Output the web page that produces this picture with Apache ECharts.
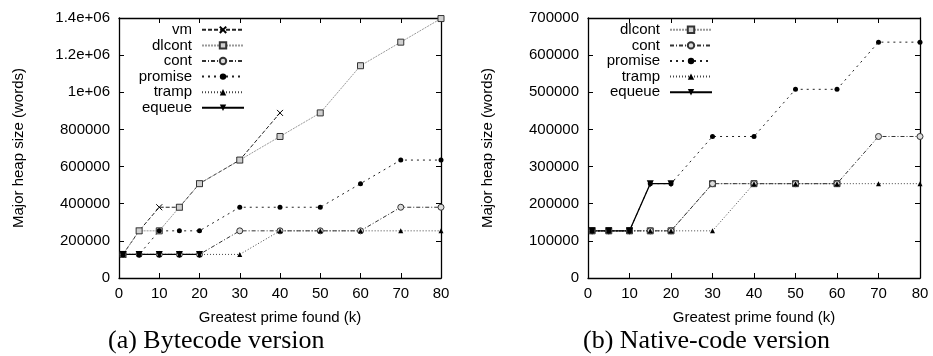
<!DOCTYPE html>
<html>
<head>
<meta charset="utf-8">
<script src="https://cdn.jsdelivr.net/npm/echarts@6/dist/echarts.min.js"></script>
<style>
  html, body { margin: 0; padding: 0; background: #fff; }
  #chart { width: 933px; height: 356px; }
</style>
</head>
<body>
<div id="chart"></div>
<script>
// x positions (greatest prime found, in k)
const primes = [1, 5, 10, 15, 20, 30, 40, 50, 60, 70, 80];

// (a) bytecode version, heap size in words
const vmA      = [127000, 254000, 381000, 381000, 508000, 635000, 889000];
const dlcontA  = [127000, 254000, 254000, 381000, 508000, 635000, 762000, 889000, 1143000, 1270000, 1397000];
const contA    = [127000, 127000, 127000, 127000, 127000, 254000, 254000, 254000, 254000, 381000, 381000];
const promiseA = [127000, 127000, 254000, 254000, 254000, 381000, 381000, 381000, 508000, 635000, 635000];
const trampA   = [127000, 127000, 127000, 127000, 127000, 127000, 254000, 254000, 254000, 254000, 254000];
const equeueA  = [127000, 127000, 127000, 127000, 127000];

// (b) native-code version
const dlcontB  = [127000, 127000, 127000, 127000, 127000, 254000, 254000, 254000, 254000];
const contB    = [127000, 127000, 127000, 127000, 127000, 254000, 254000, 254000, 254000, 381000, 381000];
const promiseB = [127000, 127000, 127000, 254000, 254000, 381000, 381000, 508000, 508000, 635000, 635000];
const trampB   = [127000, 127000, 127000, 127000, 127000, 127000, 254000, 254000, 254000, 254000, 254000];
const equeueB  = [127000, 127000, 127000, 254000, 254000];

// tick labels
const xLabels  = ['0', '10', '20', '30', '40', '50', '60', '70', '80'];
const yLabelsA = ['0', '200000', '400000', '600000', '800000', '1e+06', '1.2e+06', '1.4e+06'];
const yLabelsB = ['0', '100000', '200000', '300000', '400000', '500000', '600000', '700000'];

const FONT = '"Liberation Sans", Arial, sans-serif';
const pairs = (ys) => ys.map((y, i) => [primes[i], y]);

// gnuplot-like styles per curve
const styles = {
  vm:      { symbol: 'path://M0,0L10,10M0,10L10,0', size: 6, line: { color: '#222', width: 1, type: [4, 2] }, item: { color: '#000', borderColor: '#000', borderWidth: 1 } },
  dlcont:  { symbol: 'rect', size: 6, line: { color: '#999', width: 1, type: [2, 1] }, item: { color: '#d0d0d0', borderColor: '#333', borderWidth: 1 } },
  cont:    { symbol: 'circle', size: 6, line: { color: '#333', width: 1, type: [4, 2, 1, 2] }, item: { color: '#ddd', borderColor: '#333', borderWidth: 1 } },
  promise: { symbol: 'circle', size: 5, line: { color: '#222', width: 1, type: [2, 4] }, item: { color: '#000' } },
  tramp:   { symbol: 'triangle', size: 5, line: { color: '#444', width: 1, type: [1, 2] }, item: { color: '#000' } },
  equeue:  { symbol: 'triangle', size: 7, rotate: 180, line: { color: '#000', width: 1.3, type: 'solid' }, item: { color: '#000' } }
};

function makeSeries(name, ys, gi) {
  const s = styles[name];
  return {
    name: name,
    type: 'line',
    xAxisIndex: gi * 2,
    yAxisIndex: gi * 2,
    data: pairs(ys),
    symbol: s.symbol,
    symbolSize: s.size,
    symbolRotate: s.rotate || 0,
    showAllSymbol: true,
    lineStyle: s.line,
    itemStyle: s.item,
    emphasis: { disabled: true },
    animation: false
  };
}

const axisLine = { show: true, onZero: false, lineStyle: { color: '#000', width: 1.3 } };
const tick = { show: true, inside: true, length: 5, lineStyle: { color: '#000', width: 1 } };
const label = { color: '#000', fontSize: 15, fontFamily: FONT };

function xAxes(gi) {
  return [
    { gridIndex: gi, type: 'value', min: 0, max: 80, interval: 10, position: 'bottom',
      axisLine: axisLine, axisTick: tick, splitLine: { show: false },
      axisLabel: Object.assign({ margin: 8, formatter: (v, i) => xLabels[i] }, label),
      name: 'Greatest prime found (k)', nameLocation: 'middle', nameGap: 32,
      nameTextStyle: { color: '#000', fontSize: 15, fontFamily: FONT } },
    { gridIndex: gi, type: 'value', min: 0, max: 80, interval: 10, position: 'top',
      axisLine: axisLine, axisTick: tick, axisLabel: { show: false }, splitLine: { show: false } }
  ];
}

function yAxes(gi, max, step, labels) {
  return [
    { gridIndex: gi, type: 'value', min: 0, max: max, interval: step, position: 'left',
      axisLine: axisLine, axisTick: tick, splitLine: { show: false },
      axisLabel: Object.assign({ margin: 9, formatter: (v, i) => labels[i] }, label),
      name: 'Major heap size (words)', nameLocation: 'middle', nameGap: 93,
      nameTextStyle: { color: '#000', fontSize: 15, fontFamily: FONT } },
    { gridIndex: gi, type: 'value', min: 0, max: max, interval: step, position: 'right',
      axisLine: axisLine, axisTick: tick, axisLabel: { show: false }, splitLine: { show: false } }
  ];
}

function legend(names, right) {
  return {
    orient: 'vertical', align: 'right', right: right, top: 22, padding: 0,
    itemWidth: 42, itemHeight: 8, itemGap: 0,
    data: names,
    selectedMode: false,
    textStyle: { color: '#000', fontSize: 15, fontFamily: FONT, lineHeight: 15.6, padding: [0, 5, 0, 0] }
  };
}

const chart = echarts.init(document.getElementById('chart'), null, { renderer: 'canvas' });

chart.setOption({
  backgroundColor: '#fff',
  animation: false,
  grid: [
    { left: 119, right: 492, top: 18, bottom: 78 },
    { left: 588, right: 13, top: 18, bottom: 78 }
  ],
  xAxis: xAxes(0).concat(xAxes(1)),
  yAxis: yAxes(0, 1400000, 200000, yLabelsA).concat(yAxes(1, 700000, 100000, yLabelsB)),
  legend: [
    legend(['vm', 'dlcont', 'cont', 'promise', 'tramp', 'equeue'], 688),
    legend(['dlcont', 'cont', 'promise', 'tramp', 'equeue'], 220)
  ],
  series: [
    makeSeries('vm', vmA, 0),
    makeSeries('dlcont', dlcontA, 0),
    makeSeries('cont', contA, 0),
    makeSeries('promise', promiseA, 0),
    makeSeries('tramp', trampA, 0),
    makeSeries('equeue', equeueA, 0),
    makeSeries('dlcont', dlcontB, 1),
    makeSeries('cont', contB, 1),
    makeSeries('promise', promiseB, 1),
    makeSeries('tramp', trampB, 1),
    makeSeries('equeue', equeueB, 1)
  ],
  graphic: [
    { type: 'text', left: 108, top: 328, style: { text: '(a) Bytecode version', fill: '#000', font: '26px "Liberation Serif", "Times New Roman", serif' } },
    { type: 'text', left: 583, top: 328, style: { text: '(b) Native-code version', fill: '#000', font: '26px "Liberation Serif", "Times New Roman", serif' } }
  ]
});

window.addEventListener('resize', () => chart.resize());
</script>
</body>
</html>
